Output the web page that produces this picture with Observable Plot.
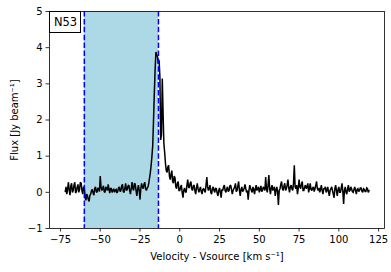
<!DOCTYPE html>
<html>
<head>
<meta charset="utf-8">
<script src="https://cdn.jsdelivr.net/npm/d3@7"></script>
<script src="https://cdn.jsdelivr.net/npm/@observablehq/plot@0.6"></script>
<style>
  body { margin: 0; background: #fff; }
  svg { font-family: "DejaVu Sans", sans-serif; }
</style>
</head>
<body>
<div id="chart"></div>
<script>
// Spectrum: channel grid start / width, flux per channel (Jy beam^-1)
const velStart = -72;
const velStep = 0.5;
const flux = [
  0.02, 0.15, -0.05, 0.10, 0.28, 0.05, -0.08, 0.18, 0.25, 0.00,     // -72 .. -67.5
  0.05, 0.20, 0.28, -0.02, 0.02, 0.15, 0.22, 0.00, 0.08, 0.28,      // -67 .. -62.5
  0.25, 0.05, -0.05, 0.15, 0.12, -0.12, -0.22, -0.05, -0.10, -0.20, // -62 .. -57.5
  -0.25, -0.08, -0.05, 0.05, 0.08, -0.02, -0.08, 0.10, 0.15, 0.02,  // -57 .. -52.5
  0.00, 0.12, 0.10, 0.02, 0.45, 0.15, 0.05, 0.10, 0.18, 0.02,       // -52 .. -47.5
  0.00, 0.15, 0.12, 0.05, 0.22, 0.08, -0.02, 0.12, 0.10, 0.00,      // -47 .. -42.5
  0.05, 0.10, 0.00, 0.06, 0.08, -0.02, 0.03, 0.12, 0.15, 0.02,      // -42 .. -37.5
  0.05, 0.18, 0.22, 0.02, 0.00, 0.12, 0.25, 0.05, 0.08, 0.18,       // -37 .. -32.5
  0.20, 0.05, -0.05, 0.12, 0.28, 0.10, 0.05, 0.25, 0.22, 0.05,      // -32 .. -27.5
  -0.10, 0.08, 0.20, 0.05, -0.20, 0.10, 0.25, 0.15, 0.10, 0.22,     // -27 .. -22.5
  0.28, 0.10, 0.05, 0.12, 0.15, 0.25, 0.40, 0.55, 0.75, 1.00,       // -22 .. -17.5
  1.30, 2.00, 2.75, 3.40, 3.88, 3.80, 3.75, 3.55, 3.65, 3.20,       // -17 .. -12.5
  1.45, 1.60, 3.15, 2.20, 1.35, 1.10, 0.80, 0.60, 0.55, 0.70,       // -12 .. -7.5
  0.75, 0.45, 0.35, 0.50, 0.60, 0.30, 0.25, 0.45, 0.40, 0.15,       // -7 .. -2.5
  0.10, 0.25, 0.30, 0.05, 0.05, 0.15, 0.20, 0.00, -0.15, 0.05,      // -2 .. 2.5
  0.12, 0.02, 0.00, 0.20, 0.35, 0.15, 0.12, 0.25, 0.30, 0.10,       // 3 .. 7.5
  0.05, 0.18, 0.20, 0.05, -0.05, 0.12, 0.25, 0.10, 0.00, 0.08,      // 8 .. 12.5
  0.15, 0.02, -0.05, 0.08, 0.10, 0.05, 0.00, 0.20, 0.42, 0.15,      // 13 .. 17.5
  0.05, 0.12, 0.20, 0.00, -0.05, 0.10, 0.15, 0.05, 0.00, 0.12,      // 18 .. 22.5
  0.10, -0.02, -0.10, 0.05, 0.12, 0.00, -0.15, 0.08, 0.05, 0.15,    // 23 .. 27.5
  0.20, 0.05, 0.00, 0.10, 0.15, 0.02, 0.05, 0.18, 0.20, 0.08,       // 28 .. 32.5
  -0.05, 0.05, 0.10, 0.15, 0.25, 0.02, 0.05, 0.18, 0.30, 0.05,      // 33 .. 37.5
  -0.10, 0.08, 0.15, 0.02, 0.05, 0.12, 0.22, 0.10, 0.00, 0.05,      // 38 .. 42.5
  -0.20, 0.05, 0.20, 0.12, 0.05, 0.00, 0.15, 0.08, -0.05, 0.10,     // 43 .. 47.5
  0.20, 0.05, 0.10, 0.15, 0.00, 0.08, 0.18, 0.02, 0.05, 0.15,       // 48 .. 52.5
  0.12, 0.05, 0.42, 0.10, 0.00, 0.20, 0.48, 0.10, -0.05, 0.12,      // 53 .. 57.5
  0.20, 0.05, 0.10, 0.15, -0.10, 0.05, 0.15, 0.02, -0.35, 0.05,     // 58 .. 62.5
  0.10, 0.22, 0.30, 0.10, 0.05, 0.18, 0.25, 0.05, 0.10, 0.20,       // 63 .. 67.5
  0.35, 0.12, 0.00, 0.15, 0.20, 0.10, 0.05, 0.25, 0.75, 0.15,       // 68 .. 72.5
  0.10, 0.20, -0.05, 0.12, 0.35, 0.15, 0.10, 0.22, 0.30, 0.05,      // 73 .. 77.5
  0.05, 0.15, 0.20, 0.10, 0.15, 0.25, 0.00, 0.10, 0.25, 0.08,       // 78 .. 82.5
  0.05, 0.12, 0.15, 0.02, 0.10, 0.20, 0.30, 0.10, 0.05, 0.12,       // 83 .. 87.5
  0.00, 0.08, 0.20, 0.05, -0.05, 0.10, 0.10, 0.15, 0.00, 0.05,      // 88 .. 92.5
  0.15, 0.02, -0.10, 0.05, 0.10, 0.15, 0.05, -0.05, -0.15, 0.10,    // 93 .. 97.5
  0.20, 0.05, -0.10, 0.08, 0.15, 0.00, 0.00, 0.12, 0.25, 0.02,      // 98 .. 102.5
  -0.32, 0.05, 0.15, 0.00, -0.05, 0.10, 0.20, 0.02, 0.05, 0.15,     // 103 .. 107.5
  0.10, 0.02, 0.00, 0.08, 0.15, 0.05, -0.05, 0.08, 0.10, 0.02,      // 108 .. 112.5
  0.05, 0.12, 0.12, 0.03, 0.00, 0.10, 0.08, 0.02, 0.02, 0.12,       // 113 .. 117.5
  0.10, 0.00, 0.05                                                  // 118 .. 119
];
const spanEdges = [-60, -13.4];
const xTicks = [-75, -50, -25, 0, 25, 50, 75, 100, 125];
const yTicks = [-1, 0, 1, 2, 3, 4, 5];
const sourceName = "N53";
const xLabel = "Velocity - Vsource [km s\u207B\u00B9]";
const yLabel = "Flux [Jy beam\u207B\u00B9]";

const spectrum = flux.map((f, i) => ({v: velStart + i * velStep, f}));

const chart = Plot.plot({
  width: 391,
  height: 272,
  marginLeft: 49,
  marginRight: 7,
  marginTop: 11,
  marginBottom: 44,
  style: {fontFamily: "DejaVu Sans, sans-serif", fontSize: "10px", background: "#fff", color: "#000"},
  x: {domain: [-81.9, 128.7]},
  y: {domain: [-1, 5]},
  marks: [
    Plot.rect([{a: spanEdges[0], b: spanEdges[1]}], {x1: "a", x2: "b", fill: "#add8e6"}),
    Plot.line(spectrum, {x: "v", y: "f", stroke: "#000", strokeWidth: 1.5, strokeLinejoin: "miter", strokeMiterlimit: 2}),
    Plot.ruleX(spanEdges, {stroke: "#0000ff", strokeWidth: 1.5, strokeDasharray: "5.5,2.4"}),
    Plot.frame({stroke: "#000", strokeWidth: 0.8}),
    Plot.axisX(xTicks, {tickSize: 3.5, tickPadding: 3.5, label: null, fontSize: 10, strokeWidth: 0.8}),
    Plot.axisY(yTicks, {tickSize: 3.5, tickPadding: 3.5, label: null, fontSize: 10, strokeWidth: 0.8}),
    Plot.text([xLabel], {frameAnchor: "bottom", dy: 28, lineAnchor: "middle", textAnchor: "middle", fontSize: 10, fill: "#000"}),
    Plot.text([yLabel], {frameAnchor: "left", dx: -35, rotate: -90, lineAnchor: "middle", textAnchor: "middle", fontSize: 10, fill: "#000"}),
    Plot.text([sourceName], {frameAnchor: "top-left", dx: 16, dy: 11, lineAnchor: "middle", textAnchor: "middle", fontSize: 11.5, fill: "#000", className: "srcname"})
  ]
});
document.getElementById("chart").appendChild(chart);

// box around the source label
const g = chart.querySelector(".srcname");
if (g) {
  const r = document.createElementNS("http://www.w3.org/2000/svg", "rect");
  r.setAttribute("x", 49.5);
  r.setAttribute("y", 11.5);
  r.setAttribute("width", 31);
  r.setAttribute("height", 21);
  r.setAttribute("fill", "#fff");
  r.setAttribute("stroke", "#000");
  r.setAttribute("stroke-width", 1);
  chart.insertBefore(r, g);
}
</script>
</body>
</html>
